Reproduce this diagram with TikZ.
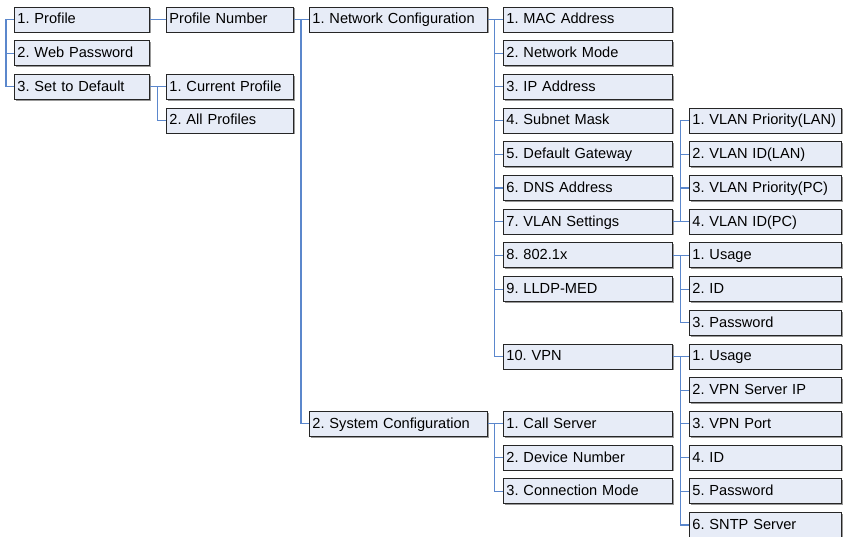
\documentclass[tikz,border=0pt]{standalone}
\usepackage{fontspec}
\setmainfont{Liberation Sans}
\usetikzlibrary{shadows}
\definecolor{boxfill}{HTML}{E7ECF7}
\definecolor{boxline}{HTML}{262626}
\definecolor{linkblue}{HTML}{5B87CC}
\frenchspacing
\hyphenpenalty=10000
\begin{document}
\begin{tikzpicture}[x=1pt,y=-1pt]
\tikzstyle{every node}+=[font=\fontsize{14.6pt}{17pt}\selectfont]
\tikzstyle{box}=[draw=boxline, line width=0.9pt, fill=boxfill, anchor=west, minimum height=25pt, inner xsep=3pt, inner ysep=0pt, text height=11.4pt, text depth=2.6pt, align=left, drop shadow={shadow xshift=1.2pt, shadow yshift=-1.2pt, fill=black!40, opacity=1}]
\tikzstyle{colA}=[box, text width=129pt]
\tikzstyle{colB}=[box, text width=121pt]
\tikzstyle{colC}=[box, text width=172pt]
\tikzstyle{colD}=[box, text width=163pt]
\tikzstyle{colE}=[box, text width=146pt]
\tikzstyle{link}=[draw=linkblue, line width=1.1pt]
\useasboundingbox (0,0) rectangle (843,537);
% first level
\node [colA] (prof) at (14,19.5) {1. Profile};
\node [colA] (webpw) at (14,53.2) {2. Web Password};
\node [colA] (setdef) at (14,86.9) {3. Set to Default};
\node [colB] (profnum) at (166,19.5) {Profile Number};
\node [colB] (curprof) at (166,86.9) {1. Current Profile};
\node [colB] (allprof) at (166,120.6) {2. All Profiles};
\node [colC] (netcfg) at (309,19.5) {1. Network Configuration};
\node [colC] (syscfg) at (309,423.9) {2. System Configuration};
% network configuration
\node [colD] (mac) at (503,19.5) {1. MAC Address};
\node [colD] (netmode) at (503,53.2) {2. Network Mode};
\node [colD] (ipaddr) at (503,86.9) {3. IP Address};
\node [colD] (mask) at (503,120.6) {4. Subnet Mask};
\node [colD] (gw) at (503,154.3) {5. Default Gateway};
\node [colD] (dns) at (503,188.0) {6. DNS Address};
\node [colD] (vlan) at (503,221.7) {7. VLAN Settings};
\node [colD] (dotx) at (503,255.4) {8. 802.1x};
\node [colD] (lldp) at (503,289.1) {9. LLDP-MED};
\node [colD] (vpn) at (503,356.5) {10. VPN};
% system configuration
\node [colD] (callsrv) at (503,423.9) {1. Call Server};
\node [colD] (devnum) at (503,457.6) {2. Device Number};
\node [colD] (connmode) at (503,491.3) {3. Connection Mode};
% vlan settings
\node [colE] (vprilan) at (689,120.6) {1. VLAN Priority(LAN)};
\node [colE] (vidlan) at (689,154.3) {2. VLAN ID(LAN)};
\node [colE] (vpripc) at (689,188.0) {3. VLAN Priority(PC)};
\node [colE] (vidpc) at (689,221.7) {4. VLAN ID(PC)};
% 802.1x
\node [colE] (xusage) at (689,255.4) {1. Usage};
\node [colE] (xid) at (689,289.1) {2. ID};
\node [colE] (xpw) at (689,322.8) {3. Password};
% vpn
\node [colE] (vusage) at (689,356.5) {1. Usage};
\node [colE] (vsrvip) at (689,390.2) {2. VPN Server IP};
\node [colE] (vport) at (689,423.9) {3. VPN Port};
\node [colE] (vid) at (689,457.6) {4. ID};
\node [colE] (vpw) at (689,491.3) {5. Password};
\node [colE] (sntp) at (689,525.0) {6. SNTP Server};
% links
\draw [link] ([xshift=-8pt]prof.west) -- (prof.west);
\draw [link] ([xshift=-8pt]prof.west) |- (webpw.west);
\draw [link] ([xshift=-8pt]prof.west) |- (setdef.west);
\draw [link] (prof.east) -- (profnum.west);
\draw [link] (setdef.east) -- (curprof.west);
\draw [link] ([xshift=-8.5pt]curprof.west) |- (allprof.west);
\draw [link] (profnum.east) -- (netcfg.west);
\draw [link] ([xshift=-8pt]netcfg.west) |- (syscfg.west);
\draw [link] (netcfg.east) -- (mac.west);
\foreach \n in {netmode,ipaddr,mask,gw,dns,vlan,dotx,lldp,vpn}
  \draw [link] ([xshift=-8.5pt]mac.west) |- (\n.west);
\draw [link] (syscfg.east) -- (callsrv.west);
\foreach \n in {devnum,connmode}
  \draw [link] ([xshift=-8.5pt]callsrv.west) |- (\n.west);
\draw [link] (vlan.east) -- (vidpc.west);
\foreach \n in {vprilan,vidlan,vpripc}
  \draw [link] ([xshift=-8.5pt]vidpc.west) |- (\n.west);
\draw [link] (dotx.east) -- (xusage.west);
\foreach \n in {xid,xpw}
  \draw [link] ([xshift=-8.5pt]xusage.west) |- (\n.west);
\draw [link] (vpn.east) -- (vusage.west);
\foreach \n in {vsrvip,vport,vid,vpw,sntp}
  \draw [link] ([xshift=-8.5pt]vusage.west) |- (\n.west);
\end{tikzpicture}
\end{document}
